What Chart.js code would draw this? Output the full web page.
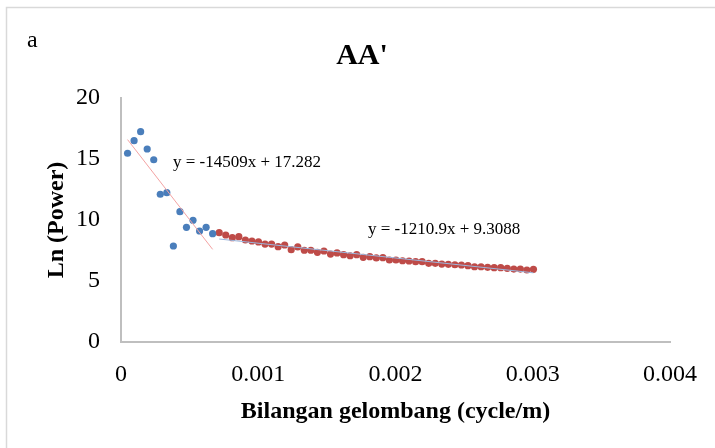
<!DOCTYPE html>
<html>
<head>
<meta charset="utf-8">
<script src="https://cdn.jsdelivr.net/npm/chart.js@4"></script>
<style>
  body { margin: 0; background: #fff; }
  canvas { display: block; }
</style>
</head>
<body>
<canvas id="myChart" width="715" height="448"></canvas>
<script>

// wave number (cycle/m) of each spectrum sample
var waveNumberLow = [0.0000477, 0.0000954, 0.0001431, 0.0001908, 0.0002385, 0.0002862, 0.0003339,
    0.0003816, 0.0004293, 0.0004770, 0.0005247, 0.0005724, 0.0006201, 0.0006678];
var waveNumberHigh = [0.0007155, 0.0007632, 0.0008109, 0.0008586, 0.0009063, 0.0009540, 0.0010017,
    0.0010494, 0.0010971, 0.0011448, 0.0011925, 0.0012402, 0.0012879, 0.0013356, 0.0013833,
    0.0014310, 0.0014787, 0.0015264, 0.0015741, 0.0016218, 0.0016695, 0.0017172, 0.0017649,
    0.0018126, 0.0018603, 0.0019080, 0.0019557, 0.0020034, 0.0020511, 0.0020988, 0.0021465,
    0.0021942, 0.0022419, 0.0022896, 0.0023373, 0.0023850, 0.0024327, 0.0024804, 0.0025281,
    0.0025758, 0.0026235, 0.0026712, 0.0027189, 0.0027666, 0.0028143, 0.0028620, 0.0029097,
    0.0029574, 0.0030051];

// Ln(Power) for both parts of the spectrum
var lnPowerLow = [15.47, 16.50, 17.24, 15.82, 14.94, 12.11, 12.24, 7.87, 10.68, 9.40, 9.98, 9.10, 9.40, 8.88];
var lnPowerHigh = [8.96, 8.77, 8.55, 8.63, 8.36, 8.28, 8.20, 8.03, 8.03, 7.81, 7.95, 7.57, 7.79,
    7.52, 7.52, 7.35, 7.46, 7.21, 7.30, 7.16, 7.07, 7.16, 6.94, 6.99, 6.89, 6.91, 6.72, 6.72,
    6.66, 6.64, 6.58, 6.58, 6.45, 6.45, 6.39, 6.37, 6.33, 6.31, 6.26, 6.17, 6.17, 6.12, 6.09,
    6.09, 6.04, 5.98, 5.98, 5.90, 5.96];

// linear trend lines: [slope, intercept]
var trendLow = [-14509, 17.282];
var trendHigh = [-1210.9, 9.3088];

var xTicks = [0, 0.001, 0.002, 0.003, 0.004];
var yTicks = [0, 5, 10, 15, 20];

var serif = "'Liberation Serif', 'Times New Roman', serif";

function points(xs, ys) {
    return xs.map(function (x, i) { return { x: x, y: ys[i] }; });
}

function trendPoints(xs, t) {
    var x0 = xs[0], x1 = xs[xs.length - 1];
    return [{ x: x0, y: t[0] * x0 + t[1] }, { x: x1, y: t[0] * x1 + t[1] }];
}

function eqText(t) {
    return 'y = ' + t[0] + 'x + ' + t[1];
}

// frame, title, panel letter and trend equations
var extras = {
    id: 'extras',
    beforeDraw: function (chart) {
        var ctx = chart.ctx;
        ctx.save();
        ctx.fillStyle = '#fff';
        ctx.fillRect(0, 0, chart.width, chart.height);
        ctx.strokeStyle = '#D9D9D9';
        ctx.lineWidth = 1.5;
        ctx.beginPath();
        ctx.moveTo(6.5, chart.height + 2);
        ctx.lineTo(6.5, 7.5);
        ctx.lineTo(chart.width + 2, 7.5);
        ctx.stroke();
        ctx.restore();
    },
    afterDraw: function (chart) {
        var ctx = chart.ctx;
        ctx.save();
        ctx.fillStyle = '#000';
        ctx.textBaseline = 'alphabetic';

        ctx.font = '24px ' + serif;
        ctx.textAlign = 'left';
        ctx.fillText('a', 27, 47);

        ctx.font = 'bold 30px ' + serif;
        ctx.textAlign = 'center';
        ctx.fillText("AA'", 362, 64);

        ctx.font = '17px ' + serif;
        ctx.textAlign = 'left';
        ctx.fillText(eqText(trendLow), 173, 167);
        ctx.fillText(eqText(trendHigh), 368, 234);
        ctx.restore();
    }
};

var ctx = document.getElementById('myChart').getContext('2d');
var myChart = new Chart(ctx, {
    type: 'scatter',
    data: {
        datasets: [{
            label: 'trend low',
            data: trendPoints(waveNumberLow, trendLow),
            showLine: true,
            borderColor: '#F4A3A3',
            borderWidth: 1,
            pointRadius: 0,
            order: 0
        }, {
            label: 'trend high',
            data: trendPoints(waveNumberHigh, trendHigh),
            showLine: true,
            borderColor: '#9BB7DD',
            borderWidth: 1,
            pointRadius: 0,
            order: 0
        }, {
            label: 'low',
            data: points(waveNumberLow, lnPowerLow),
            backgroundColor: '#4A7EBB',
            borderWidth: 0,
            pointRadius: 3.6,
            order: 1
        }, {
            label: 'high',
            data: points(waveNumberHigh, lnPowerHigh),
            backgroundColor: '#BE4B48',
            borderWidth: 0,
            pointRadius: 3.6,
            order: 1
        }]
    },
    options: {
        responsive: false,
        animation: false,
        layout: { padding: { top: 98, right: 42, left: 0, bottom: 0 } },
        plugins: {
            legend: { display: false },
            tooltip: { enabled: false }
        },
        scales: {
            x: {
                type: 'linear',
                min: xTicks[0],
                max: xTicks[xTicks.length - 1],
                afterBuildTicks: function (scale) {
                    scale.ticks = xTicks.map(function (v) { return { value: v }; });
                },
                afterFit: function (scale) { scale.height = 106; },
                ticks: {
                    color: '#000',
                    padding: 18,
                    font: { family: serif, size: 24 },
                    callback: function (v) { return v === 0 ? '0' : v.toFixed(3); }
                },
                grid: { display: false, drawTicks: false },
                border: { color: '#BFBFBF', width: 2 },
                title: {
                    display: true,
                    text: 'Bilangan gelombang (cycle/m)',
                    color: '#000',
                    font: { family: serif, size: 24, weight: 'bold' },
                    padding: { top: 0, bottom: 22 }
                }
            },
            y: {
                min: yTicks[0],
                max: yTicks[yTicks.length - 1],
                afterBuildTicks: function (scale) {
                    scale.ticks = yTicks.map(function (v) { return { value: v }; });
                },
                afterFit: function (scale) { scale.width = 121; },
                ticks: {
                    color: '#000',
                    padding: 21,
                    font: { family: serif, size: 24 }
                },
                grid: { display: false, drawTicks: false },
                border: { color: '#BFBFBF', width: 2 },
                title: {
                    display: true,
                    text: 'Ln (Power)',
                    color: '#000',
                    font: { family: serif, size: 24, weight: 'bold' },
                    padding: { top: 42, bottom: 0 }
                }
            }
        }
    },
    plugins: [extras]
});

</script>
</body>
</html>
